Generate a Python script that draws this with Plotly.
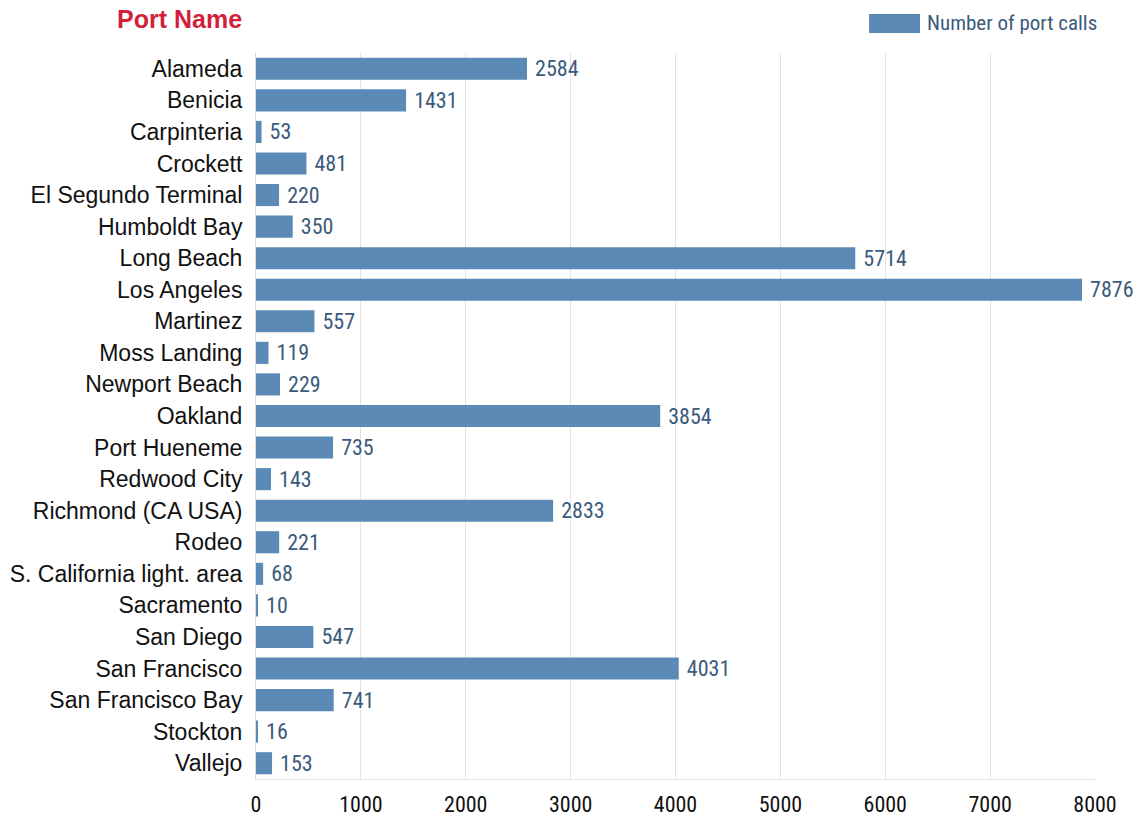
import plotly.graph_objects as go

ports = ["Alameda", "Benicia", "Carpinteria", "Crockett", "El Segundo Terminal", "Humboldt Bay",
         "Long Beach", "Los Angeles", "Martinez", "Moss Landing", "Newport Beach", "Oakland",
         "Port Hueneme", "Redwood City", "Richmond (CA USA)", "Rodeo", "S. California light. area",
         "Sacramento", "San Diego", "San Francisco", "San Francisco Bay", "Stockton", "Vallejo"]
calls = [2584, 1431, 53, 481, 220, 350, 5714, 7876, 557, 119, 229, 3854, 735, 143, 2833, 221, 68,
         10, 547, 4031, 741, 16, 153]
x_ticks = [0, 1000, 2000, 3000, 4000, 5000, 6000, 7000, 8000]
series_name = "Number of port calls"

narrow = "Liberation Sans Narrow, Arial Narrow, Roboto Condensed, sans-serif"
bar_color = "#5b8ab6"
label_color = "#3b5b7c"

fig = go.Figure()
fig.add_trace(go.Bar(
    y=ports, x=calls, orientation="h", name=series_name,
    marker=dict(color=bar_color, line=dict(width=0)),
    text=[" " + str(v) for v in calls], textposition="outside", cliponaxis=False,
    constraintext="none",
    textfont=dict(family=narrow, size=22, color=label_color),
    showlegend=False,
))

fig.update_layout(
    width=1138, height=816,
    margin=dict(l=256, r=43, t=53, b=37),
    paper_bgcolor="white", plot_bgcolor="white",
    bargap=0.3,
    font=dict(family="Liberation Sans, Arial, sans-serif"),
    xaxis=dict(range=[0, 8000], tickvals=x_ticks, ticktext=[str(t) for t in x_ticks],
               showgrid=True, gridcolor="#e3e3e3", gridwidth=1, zeroline=False,
               showline=True, linecolor="#e3e3e3", linewidth=1, automargin=False,
               tickfont=dict(family=narrow, size=22, color="#111111"),
               ticks="outside", ticklen=6, tickcolor="rgba(0,0,0,0)"),
    yaxis=dict(autorange="reversed", categoryorder="array", categoryarray=ports,
               showgrid=False, zeroline=False, showline=True, linecolor="#d8d8d8", linewidth=1,
               automargin=False,
               tickfont=dict(family="Liberation Sans, Arial, sans-serif", size=23, color="#111111"),
               ticks="outside", ticklen=8, tickcolor="rgba(0,0,0,0)"),
    shapes=[dict(type="rect", xref="paper", yref="paper",
                 x0=(869 - 256) / 839, x1=(920 - 256) / 839,
                 y0=1 + (53 - 33) / 726, y1=1 + (53 - 14) / 726,
                 fillcolor=bar_color, line=dict(width=0))],
    annotations=[
        dict(text="<b>Port Name</b>", xref="paper", yref="paper", x=(244 - 256) / 839, y=1.0,
             xanchor="right", yanchor="middle", yshift=53 - 19, showarrow=False,
             font=dict(family="Liberation Sans, Arial, sans-serif", size=25, color="#d21f3c")),
        dict(text=series_name, xref="paper", yref="paper", x=(925 - 256) / 839, y=1.0,
             xanchor="left", yanchor="middle", yshift=53 - 23, showarrow=False,
             font=dict(family=narrow, size=21, color=label_color)),
    ],
)

fig.write_html("out.html")
